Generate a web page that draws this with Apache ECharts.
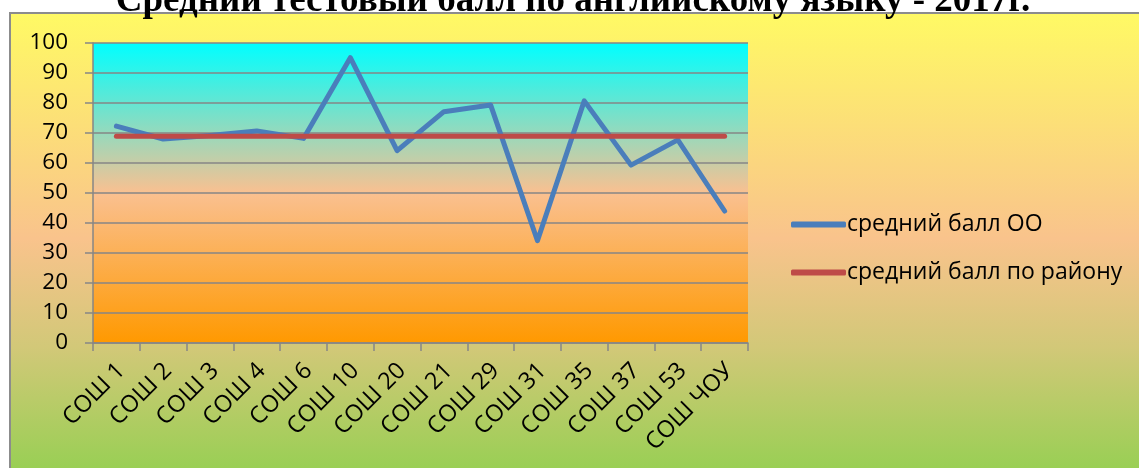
<!DOCTYPE html>
<html><head><meta charset="utf-8">
<script src="https://cdn.jsdelivr.net/npm/echarts@6/dist/echarts.min.js"></script>
<style>html,body{margin:0;padding:0;background:#fff;}#c{width:1139px;height:468px;}</style>
</head><body><div id="c"></div>
<script>
const titleText = 'Средний тестовый балл по английскому языку - 2017г.';
const categories = ['СОШ 1','СОШ 2','СОШ 3','СОШ 4','СОШ 6','СОШ 10','СОШ 20','СОШ 21','СОШ 29','СОШ 31','СОШ 35','СОШ 37','СОШ 53','СОШ ЧОУ'];
const schoolName = 'средний балл ОО';
const districtName = 'средний балл по району';
const schoolScores = [72.3, 68, 69.2, 70.7, 68.2, 95.1, 64.1, 77.1, 79.3, 34.1, 80.7, 59.3, 67.7, 44];
const districtScores = [68.9, 68.9, 68.9, 68.9, 68.9, 68.9, 68.9, 68.9, 68.9, 68.9, 68.9, 68.9, 68.9, 68.9];
const yTicks = {min: 0, max: 100, interval: 10};

const chart = echarts.init(document.getElementById('c'), null, {renderer: 'canvas'});
const font = '"Open Sans", "Noto Sans", sans-serif';
chart.setOption({
  animation: false,
  backgroundColor: '#ffffff',
  graphic: [
    {type: 'rect', z: -10, silent: true,
     shape: {x: 10, y: 13, width: 1140, height: 470},
     style: {
       fill: new echarts.graphic.LinearGradient(0, 0, 0, 1, [
         {offset: 0, color: '#FFFA64'},
         {offset: 0.48, color: '#F9C38C'},
         {offset: 0.71, color: '#D2C878'},
         {offset: 1, color: '#92D050'}
       ]),
       stroke: '#8C8C8C', lineWidth: 2
     }},
    {type: 'text', z: 10, silent: true,
     style: {x: 573, y: 20, text: titleText, textAlign: 'center', textVerticalAlign: 'bottom',
             font: 'bold 37px "Liberation Serif", "Times New Roman", serif', fill: '#000'}}
  ],
  grid: {
    left: 93, right: 391, top: 43, bottom: 125, show: true, borderWidth: 0,
    backgroundColor: new echarts.graphic.LinearGradient(0, 0, 0, 1, [
      {offset: 0, color: '#00FFFF'},
      {offset: 0.5, color: '#FAC090'},
      {offset: 1, color: '#FF9900'}
    ])
  },
  legend: {
    orient: 'vertical', left: 786, top: 208, itemWidth: 55, itemHeight: 6, itemGap: 25,
    icon: 'roundRect',
    textStyle: {fontSize: 23, fontFamily: font, color: '#000', padding: [0,0,0,-4]},
    data: [schoolName, districtName]
  },
  xAxis: {
    type: 'category', data: categories, boundaryGap: true,
    axisLine: {lineStyle: {color: '#868686', width: 1.5}},
    axisTick: {show: true, length: 8, lineStyle: {color: '#868686', width: 1.5}},
    axisLabel: {rotate: 45, fontSize: 23.5, fontFamily: font, color: '#000', margin: 29, padding: [0,-7,0,0], interval: 0},
    splitLine: {show: false}
  },
  yAxis: {
    type: 'value', min: yTicks.min, max: yTicks.max, interval: yTicks.interval,
    axisLine: {show: true, lineStyle: {color: '#868686', width: 1.5}},
    axisTick: {show: true, length: 8, lineStyle: {color: '#868686', width: 1.5}},
    axisLabel: {fontSize: 22.5, fontFamily: font, color: '#000', margin: 25},
    splitLine: {show: true, lineStyle: {color: '#868686', width: 1.5}}
  },
  series: [
    {name: schoolName, type: 'line', data: schoolScores, symbol: 'none',
     lineStyle: {color: '#4A7EBB', width: 5, cap: 'round', join: 'round'}, itemStyle: {color: '#4A7EBB'}},
    {name: districtName, type: 'line', data: districtScores, symbol: 'none',
     lineStyle: {color: '#BE4B48', width: 5, cap: 'round', join: 'round'}, itemStyle: {color: '#BE4B48'}}
  ]
});
</script></body></html>
